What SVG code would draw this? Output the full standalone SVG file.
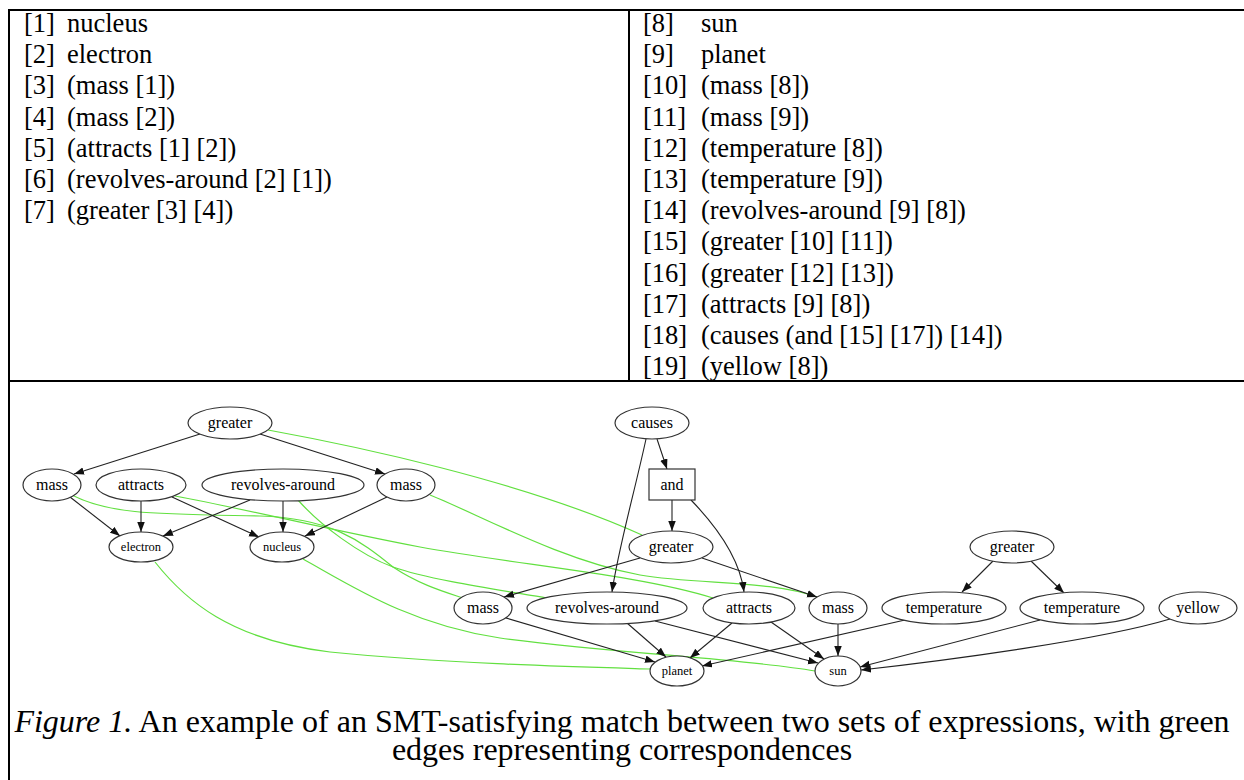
<svg xmlns="http://www.w3.org/2000/svg" width="1244" height="780" viewBox="0 0 1244 780">
<style>
.tbl{fill:none;stroke:#000;stroke-width:2}
.tx{font-family:"Liberation Serif","Times New Roman",serif;font-size:26.5px;fill:#000}
.cap{font-family:"Liberation Serif","Times New Roman",serif;font-size:32px;fill:#000}
.nd{fill:#fff;stroke:#333;stroke-width:1.2}
.lb{font-family:"Liberation Serif","Times New Roman",serif;font-size:16px;fill:#000;text-anchor:middle}
.sm{font-family:"Liberation Serif","Times New Roman",serif;font-size:12.5px;fill:#000;text-anchor:middle}
.e{fill:none;stroke:#222;stroke-width:1.1;marker-end:url(#ah)}
.g{fill:none;stroke:#62e040;stroke-width:1.2}
</style>
<defs>
<marker id="ah" markerUnits="userSpaceOnUse" markerWidth="11" markerHeight="8" refX="10" refY="3.75" orient="auto">
<path d="M0,0 L10,3.75 L0,7.5 z" fill="#111"/>
</marker>
</defs>
<rect width="1244" height="780" fill="#fff"/>
<g id="table">
<line class="tbl" x1="9" y1="10" x2="1244" y2="10"/>
<line class="tbl" x1="9" y1="9" x2="9" y2="780"/>
<line class="tbl" x1="629" y1="10" x2="629" y2="381"/>
<line class="tbl" x1="9" y1="381" x2="1244" y2="381"/>
</g>
<g id="left-list" class="tx">
<text x="24" y="32">[1]</text><text x="67" y="32">nucleus</text>
<text x="24" y="63.2">[2]</text><text x="67" y="63.2">electron</text>
<text x="24" y="94.4">[3]</text><text x="67" y="94.4">(mass [1])</text>
<text x="24" y="125.6">[4]</text><text x="67" y="125.6">(mass [2])</text>
<text x="24" y="156.8">[5]</text><text x="67" y="156.8">(attracts [1] [2])</text>
<text x="24" y="188">[6]</text><text x="67" y="188">(revolves-around [2] [1])</text>
<text x="24" y="219.2">[7]</text><text x="67" y="219.2">(greater [3] [4])</text>
</g>
<g id="right-list" class="tx">
<text x="643" y="32">[8]</text><text x="701" y="32">sun</text>
<text x="643" y="63.2">[9]</text><text x="701" y="63.2">planet</text>
<text x="643" y="94.4">[10]</text><text x="701" y="94.4">(mass [8])</text>
<text x="643" y="125.6">[11]</text><text x="701" y="125.6">(mass [9])</text>
<text x="643" y="156.8">[12]</text><text x="701" y="156.8">(temperature [8])</text>
<text x="643" y="188">[13]</text><text x="701" y="188">(temperature [9])</text>
<text x="643" y="219.2">[14]</text><text x="701" y="219.2">(revolves-around [9] [8])</text>
<text x="643" y="250.4">[15]</text><text x="701" y="250.4">(greater [10] [11])</text>
<text x="643" y="281.6">[16]</text><text x="701" y="281.6">(greater [12] [13])</text>
<text x="643" y="312.8">[17]</text><text x="701" y="312.8">(attracts [9] [8])</text>
<text x="643" y="344">[18]</text><text x="701" y="344">(causes (and [15] [17]) [14])</text>
<text x="643" y="375.2">[19]</text><text x="701" y="375.2">(yellow [8])</text>
</g>
<g id="connectors">
<g id="correspondences">
<path class="g" d="M268,430 C350,445 520,480 642,535"/>
<path class="g" d="M72,495 C110,515 160,514 260,516 C330,518 360,540 393,567 C420,585 445,592 463,598"/>
<path class="g" d="M175,496 C250,510 330,530 420,547 C520,565 640,575 713,598"/>
<path class="g" d="M298,500 C320,525 360,555 393,567 C430,580 500,590 547,598"/>
<path class="g" d="M430,495 C480,515 560,560 640,575 C700,585 770,580 817,597"/>
<path class="g" d="M155,562 C185,600 230,640 330,652 C450,664 580,667 650,669"/>
<path class="g" d="M303,559 C350,585 410,625 500,638 C620,654 740,658 815,671"/>
</g>
<g id="edges">
<path class="e" d="M200,434 L74,474"/>
<path class="e" d="M260,434 L385,474"/>
<path class="e" d="M70,497 L120,536"/>
<path class="e" d="M141,501 L141,532"/>
<path class="e" d="M172,497 L259,537"/>
<path class="e" d="M250,500 L163,536"/>
<path class="e" d="M283,501 L283,532"/>
<path class="e" d="M387,497 L305,536"/>
<path class="e" d="M657,439 L667,469"/>
<path class="e" d="M646,439 C635,490 618,550 612,592"/>
<path class="e" d="M672,500 L672,531"/>
<path class="e" d="M691,500 C720,530 740,560 744,592"/>
<path class="e" d="M640,558 L504,597"/>
<path class="e" d="M702,558 L817,597"/>
<path class="e" d="M993,561 L962,592"/>
<path class="e" d="M1031,561 L1064,593"/>
<path class="e" d="M506,618 L655,662"/>
<path class="e" d="M627,623 L666,657"/>
<path class="e" d="M655,621 L818,663"/>
<path class="e" d="M732,623 L690,658"/>
<path class="e" d="M771,622 L824,659"/>
<path class="e" d="M838,624 L838,656"/>
<path class="e" d="M905,620 L702,666"/>
<path class="e" d="M1040,620 L860,667"/>
<path class="e" d="M1170,619 C1100,640 950,660 861,670"/>
</g>
</g>
<g id="n-greater-a"><ellipse class="nd" cx="230" cy="423" rx="42" ry="16"/><text class="lb" x="230" y="428">greater</text></g>
<g id="n-mass-a1"><ellipse class="nd" cx="52" cy="485" rx="29" ry="16"/><text class="lb" x="52" y="490">mass</text></g>
<g id="n-attracts-a"><ellipse class="nd" cx="141" cy="485" rx="45" ry="16"/><text class="lb" x="141" y="490">attracts</text></g>
<g id="n-revolves-a"><ellipse class="nd" cx="283" cy="485" rx="81" ry="16"/><text class="lb" x="283" y="490">revolves-around</text></g>
<g id="n-mass-a2"><ellipse class="nd" cx="406" cy="485" rx="29" ry="16"/><text class="lb" x="406" y="490">mass</text></g>
<g id="n-electron"><ellipse class="nd" cx="141" cy="547" rx="32" ry="15"/><text class="sm" x="141" y="551">electron</text></g>
<g id="n-nucleus"><ellipse class="nd" cx="282" cy="547" rx="32" ry="15"/><text class="sm" x="282" y="551">nucleus</text></g>
<g id="n-causes"><ellipse class="nd" cx="652" cy="423" rx="37" ry="16"/><text class="lb" x="652" y="428">causes</text></g>
<g id="n-and"><rect class="nd" x="649" y="469" width="46" height="31"/><text class="lb" x="672" y="490">and</text></g>
<g id="n-greater-s1"><ellipse class="nd" cx="671" cy="547" rx="42" ry="16"/><text class="lb" x="671" y="552">greater</text></g>
<g id="n-mass-s1"><ellipse class="nd" cx="483" cy="608" rx="29" ry="16"/><text class="lb" x="483" y="613">mass</text></g>
<g id="n-revolves-s"><ellipse class="nd" cx="607" cy="608" rx="80" ry="16"/><text class="lb" x="607" y="613">revolves-around</text></g>
<g id="n-attracts-s"><ellipse class="nd" cx="749" cy="608" rx="46" ry="16"/><text class="lb" x="749" y="613">attracts</text></g>
<g id="n-mass-s2"><ellipse class="nd" cx="838" cy="608" rx="29" ry="16"/><text class="lb" x="838" y="613">mass</text></g>
<g id="n-temp1"><ellipse class="nd" cx="944" cy="608" rx="62" ry="16"/><text class="lb" x="944" y="613">temperature</text></g>
<g id="n-temp2"><ellipse class="nd" cx="1082" cy="608" rx="62" ry="16"/><text class="lb" x="1082" y="613">temperature</text></g>
<g id="n-yellow"><ellipse class="nd" cx="1198" cy="608" rx="39" ry="16"/><text class="lb" x="1198" y="613">yellow</text></g>
<g id="n-greater-s2"><ellipse class="nd" cx="1012" cy="547" rx="42" ry="16"/><text class="lb" x="1012" y="552">greater</text></g>
<g id="n-planet"><ellipse class="nd" cx="677" cy="671" rx="27" ry="15"/><text class="sm" x="677" y="675">planet</text></g>
<g id="n-sun"><ellipse class="nd" cx="838" cy="671" rx="23" ry="15"/><text class="sm" x="838" y="675">sun</text></g>
<g id="caption" class="cap">
<text x="622" y="732" text-anchor="middle"><tspan font-style="italic">Figure 1.</tspan> An example of an SMT-satisfying match between two sets of expressions, with green</text>
<text x="622" y="760" text-anchor="middle">edges representing correspondences</text>
</g>
</svg>
